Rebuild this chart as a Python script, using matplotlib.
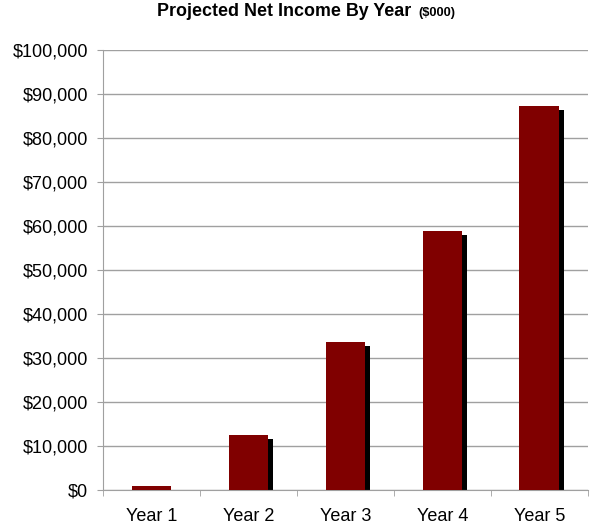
import matplotlib.pyplot as plt
import matplotlib.transforms as mtransforms
from matplotlib.ticker import FuncFormatter, MultipleLocator

plt.rcParams['font.family'] = ['Liberation Sans', 'DejaVu Sans']

years = ['Year 1', 'Year 2', 'Year 3', 'Year 4', 'Year 5']
net_income = [1000, 12500, 33600, 58900, 87300]

fig = plt.figure(figsize=(5.92, 5.31), dpi=100)
ax = fig.add_axes([0.174, 0.0772, 0.819, 0.8289])

x = list(range(len(years)))
# shadow, offset by a few pixels
shadow = mtransforms.offset_copy(ax.transData, fig=fig, x=5, y=-4, units='dots')
ax.bar(x, net_income, width=0.41, color='black', transform=shadow, zorder=2)
ax.bar(x, net_income, width=0.41, color='#800000', zorder=3)

ax.set_xlim(-0.5, 4.5)
ax.set_ylim(0, 100000)
ax.yaxis.set_major_locator(MultipleLocator(10000))
ax.yaxis.set_major_formatter(FuncFormatter(lambda v, p: '${:,.0f}'.format(v)))
ax.set_xticks(x)
ax.set_xticklabels(years)
ax.set_xticks([i + 0.5 for i in range(-1, 5)], minor=True)
ax.tick_params(axis='x', which='major', length=0, pad=13, labelsize=13)
ax.tick_params(axis='x', which='minor', length=4.5, color='#a0a0a0')
ax.tick_params(axis='y', length=4.5, color='#a0a0a0', labelsize=13, pad=6)

ax.grid(axis='y', color='#a0a0a0', linewidth=1)
ax.set_axisbelow(True)
for s in ['top', 'right']:
    ax.spines[s].set_visible(False)
for s in ['left', 'bottom']:
    ax.spines[s].set_color('#a0a0a0')

# title in two sizes
t1 = fig.text(157 / 592, 1 - 12 / 531, 'Projected Net Income By Year', ha='left', va='center',
              fontsize=12.9, fontweight='bold')
fig.canvas.draw()
bb = t1.get_window_extent()
fig.text((bb.x1 + 7) / 592, 1 - 13 / 531, '($000)', ha='left', va='center',
         fontsize=9.3, fontweight='bold')

fig.savefig('out.png', dpi=100)
